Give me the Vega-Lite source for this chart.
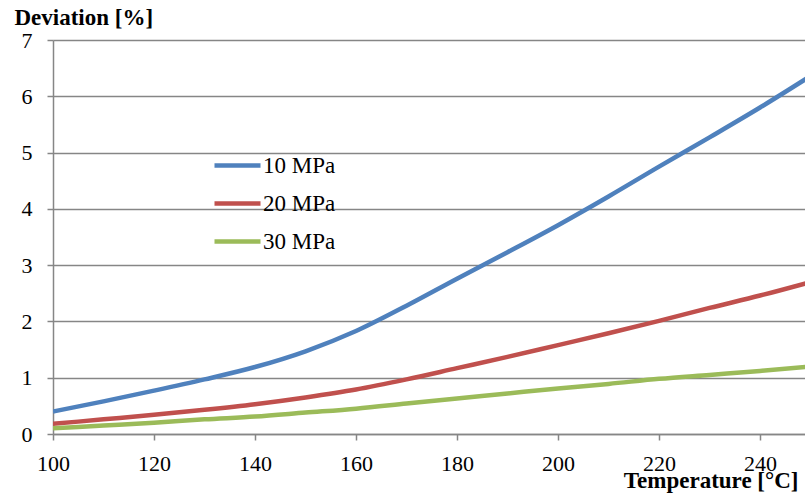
{
  "$schema": "https://vega.github.io/schema/vega-lite/v6.json",
  "width": 752,
  "height": 394,
  "autosize": {"type": "none"},
  "padding": {"left": 53, "top": 40, "right": 0, "bottom": 60},
  "background": "white",
  "config": {
    "view": {"stroke": null},
    "font": "Liberation Serif",
    "style": {
      "guide-label": {"font": "Liberation Serif", "fontSize": 22, "fill": "black"},
      "guide-title": {"font": "Liberation Serif"}
    },
    "axis": {"domainColor": "#868686", "domainWidth": 1.5, "tickColor": "#868686", "tickWidth": 1.5, "tickSize": 6, "gridColor": "#868686", "gridWidth": 1.5, "labelColor": "black", "labelFont": "Liberation Serif", "labelFontSize": 22, "titleFont": "Liberation Serif", "titleFontSize": 23, "titleFontWeight": "bold", "titleColor": "black"},
    "axisX": {"labelFont": "Liberation Serif", "labelFontSize": 22},
    "axisY": {"labelFont": "Liberation Serif", "labelFontSize": 22},
    "legend": {"labelFont": "'Liberation Serif', 'DejaVu Serif', serif"}
  },
  "data": {
    "values": [
      {"T": 100, "D": 0.40, "s": "10 MPa"},
      {"T": 110, "D": 0.58, "s": "10 MPa"},
      {"T": 120, "D": 0.77, "s": "10 MPa"},
      {"T": 130, "D": 0.97, "s": "10 MPa"},
      {"T": 140, "D": 1.19, "s": "10 MPa"},
      {"T": 150, "D": 1.47, "s": "10 MPa"},
      {"T": 160, "D": 1.83, "s": "10 MPa"},
      {"T": 170, "D": 2.28, "s": "10 MPa"},
      {"T": 180, "D": 2.76, "s": "10 MPa"},
      {"T": 190, "D": 3.23, "s": "10 MPa"},
      {"T": 200, "D": 3.71, "s": "10 MPa"},
      {"T": 210, "D": 4.22, "s": "10 MPa"},
      {"T": 220, "D": 4.75, "s": "10 MPa"},
      {"T": 230, "D": 5.27, "s": "10 MPa"},
      {"T": 240, "D": 5.80, "s": "10 MPa"},
      {"T": 250, "D": 6.36, "s": "10 MPa"},
      {"T": 100, "D": 0.18, "s": "20 MPa"},
      {"T": 110, "D": 0.26, "s": "20 MPa"},
      {"T": 120, "D": 0.34, "s": "20 MPa"},
      {"T": 130, "D": 0.43, "s": "20 MPa"},
      {"T": 140, "D": 0.53, "s": "20 MPa"},
      {"T": 150, "D": 0.65, "s": "20 MPa"},
      {"T": 160, "D": 0.79, "s": "20 MPa"},
      {"T": 170, "D": 0.97, "s": "20 MPa"},
      {"T": 180, "D": 1.17, "s": "20 MPa"},
      {"T": 190, "D": 1.37, "s": "20 MPa"},
      {"T": 200, "D": 1.58, "s": "20 MPa"},
      {"T": 210, "D": 1.79, "s": "20 MPa"},
      {"T": 220, "D": 2.01, "s": "20 MPa"},
      {"T": 230, "D": 2.24, "s": "20 MPa"},
      {"T": 240, "D": 2.46, "s": "20 MPa"},
      {"T": 250, "D": 2.70, "s": "20 MPa"},
      {"T": 100, "D": 0.10, "s": "30 MPa"},
      {"T": 110, "D": 0.15, "s": "30 MPa"},
      {"T": 120, "D": 0.20, "s": "30 MPa"},
      {"T": 130, "D": 0.26, "s": "30 MPa"},
      {"T": 140, "D": 0.31, "s": "30 MPa"},
      {"T": 150, "D": 0.38, "s": "30 MPa"},
      {"T": 160, "D": 0.45, "s": "30 MPa"},
      {"T": 170, "D": 0.54, "s": "30 MPa"},
      {"T": 180, "D": 0.63, "s": "30 MPa"},
      {"T": 190, "D": 0.72, "s": "30 MPa"},
      {"T": 200, "D": 0.81, "s": "30 MPa"},
      {"T": 210, "D": 0.89, "s": "30 MPa"},
      {"T": 220, "D": 0.98, "s": "30 MPa"},
      {"T": 230, "D": 1.05, "s": "30 MPa"},
      {"T": 240, "D": 1.12, "s": "30 MPa"},
      {"T": 250, "D": 1.20, "s": "30 MPa"}
    ]
  },
  "mark": {"type": "line", "strokeWidth": 4.5, "interpolate": "monotone", "clip": true},
  "encoding": {
    "x": {
      "field": "T", "type": "quantitative",
      "scale": {"domain": [100, 248.9], "nice": false, "zero": false},
      "axis": {"values": [100, 120, 140, 160, 180, 200, 220, 240], "grid": false, "labelFont": "Liberation Serif", "labelFontSize": 22, "titleFont": "Liberation Serif", "labelPadding": 30, "labelBaseline": "alphabetic", "labelFlush": false, "title": "Temperature [°C]", "titleAnchor": "start", "titleAlign": "right", "titleX": 745, "titleY": 53, "titleBaseline": "alphabetic"}
    },
    "y": {
      "field": "D", "type": "quantitative",
      "scale": {"domain": [0, 7], "nice": false},
      "axis": {"values": [0, 1, 2, 3, 4, 5, 6, 7], "grid": true, "labelFont": "Liberation Serif", "labelFontSize": 22, "titleFont": "Liberation Serif", "labelPadding": 15, "labelFlush": false, "title": "Deviation [%]", "titleAngle": 0, "titleAlign": "left", "titleBaseline": "alphabetic", "titleX": -39, "titleY": -16, "titleAnchor": "start"}
    },
    "color": {
      "field": "s", "type": "nominal",
      "scale": {"domain": ["10 MPa", "20 MPa", "30 MPa"], "range": ["#4F81BD", "#C0504D", "#9BBB59"]},
      "legend": {"title": null, "orient": "none", "legendX": 159, "legendY": 100, "padding": 0, "symbolType": "stroke", "symbolSize": 2116, "symbolStrokeWidth": 4.5, "labelFontSize": 23, "labelColor": "black", "labelOffset": 0, "rowPadding": -10}
    }
  }
}
